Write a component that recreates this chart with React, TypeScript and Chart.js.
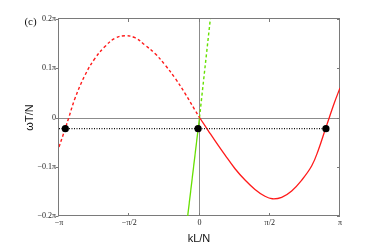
import React, { useEffect, useRef } from "react";
import { Chart, registerables } from "chart.js";

Chart.register(...registerables);

// All values in units of π
const redDashK = [-1.0, -0.955, -0.93, -0.886, -0.815, -0.744, -0.673, -0.601, -0.53, -0.459, -0.388, -0.317, -0.246, -0.174, -0.103, -0.032, 0];
const redDashW = [-0.06, -0.022, 0, 0.039, 0.086, 0.12, 0.144, 0.161, 0.166, 0.162, 0.147, 0.13, 0.107, 0.08, 0.049, 0.015, 0];

const redSolidK = [0, 0.063, 0.11, 0.181, 0.253, 0.324, 0.395, 0.466, 0.518, 0.585, 0.656, 0.728, 0.799, 0.846, 0.9, 0.924, 0.96, 1.0];
const redSolidW = [0, -0.027, -0.047, -0.076, -0.104, -0.127, -0.146, -0.16, -0.165, -0.162, -0.149, -0.127, -0.098, -0.066, -0.02, 0, 0.03, 0.06];

const greenSolidK = [-0.084, 0];
const greenSolidW = [-0.2, 0];
const greenDashK = [0, 0.077];
const greenDashW = [0, 0.2];

const levelK = [-1.0, 0.9];
const levelW = [-0.0227, -0.0227];

const dotK = [-0.955, -0.01, 0.9];
const dotW = [-0.0227, -0.0227, -0.0227];

const xTickValues = [-1, -0.5, 0, 0.5, 1];
const xTickLabels = ["−π", "−π/2", "0", "π/2", "π"];
const yTickValues = [-0.2, -0.1, 0, 0.1, 0.2];
const yTickLabels = ["−0.2π", "−0.1π", "0", "0.1π", "0.2π"];

const xTitle = "kL/N";
const yTitle = "ωT/N";
const panelLabel = "(c)";

const pts = (k: number[], w: number[]) => k.map((v, i) => ({ x: v, y: w[i] }));

const labelFor = (vals: number[], labels: string[], v: number) => {
  const i = vals.findIndex((t) => Math.abs(t - v) < 1e-6);
  return i >= 0 ? labels[i] : "";
};

const framePlugin = {
  id: "frame",
  beforeDatasetsDraw(chart: any) {
    const { ctx, chartArea } = chart;
    const { left, right, top, bottom } = chartArea;
    const xs = chart.scales.x;
    const ys = chart.scales.y;
    ctx.save();
    ctx.lineWidth = 1;
    // zero lines
    ctx.strokeStyle = "#8c8c8c";
    const x0 = Math.round(xs.getPixelForValue(0)) - 0.5;
    const y0 = Math.round(ys.getPixelForValue(0)) + 0.5;
    ctx.beginPath();
    ctx.moveTo(x0, top);
    ctx.lineTo(x0, bottom);
    ctx.moveTo(left, y0);
    ctx.lineTo(right, y0);
    ctx.stroke();
    // box
    ctx.strokeStyle = "#7a7a7a";
    ctx.strokeRect(left - 0.5, top - 0.5, right - left, bottom - top);
    // ticks
    ctx.beginPath();
    const tl = 3;
    xTickValues.forEach((v) => {
      const px = Math.round(xs.getPixelForValue(v)) - 0.5;
      ctx.moveTo(px, bottom);
      ctx.lineTo(px, bottom - tl);
      ctx.moveTo(px, top);
      ctx.lineTo(px, top + tl);
    });
    yTickValues.forEach((v) => {
      const py = Math.round(ys.getPixelForValue(v)) + 0.5;
      ctx.moveTo(left - 0.5, py);
      ctx.lineTo(left - 0.5 - tl, py);
      ctx.moveTo(right, py);
      ctx.lineTo(right - tl, py);
    });
    ctx.stroke();
    ctx.restore();
  },
  afterDraw(chart: any) {
    const { ctx } = chart;
    ctx.save();
    ctx.fillStyle = "#111";
    ctx.textAlign = "center";
    ctx.textBaseline = "middle";
    ctx.font = "11px 'Liberation Sans', Arial, sans-serif";
    ctx.fillText(xTitle, 199, 239);
    ctx.save();
    ctx.translate(29.5, 117.5);
    ctx.rotate(-Math.PI / 2);
    ctx.fillText(yTitle, 0, 0);
    ctx.restore();
    ctx.font = "11px 'Liberation Serif', 'Times New Roman', serif";
    ctx.fillText(panelLabel, 30.5, 22);
    ctx.restore();
  },
};

export default function App() {
  const ref = useRef<HTMLCanvasElement | null>(null);
  useEffect(() => {
    document.body.style.margin = "0";
    if (!ref.current) return;
    const red = "#ff1a1a";
    const green = "#66e000";
    const chart = new Chart(ref.current, {
      type: "line",
      data: {
        datasets: [
          {
            data: pts(dotK, dotW),
            showLine: false,
            pointRadius: 3.6,
            pointBackgroundColor: "#000",
            pointBorderColor: "#000",
            borderWidth: 0,
            order: 0,
          },
          {
            data: pts(levelK, levelW),
            borderColor: "#111",
            borderWidth: 1.3,
            borderDash: [1, 1.5],
            pointRadius: 0,
            tension: 0,
            order: 1,
          },
          {
            data: pts(redDashK, redDashW),
            borderColor: red,
            borderWidth: 1.4,
            borderDash: [3, 2.5],
            pointRadius: 0,
            tension: 0.4,
            order: 2,
          },
          {
            data: pts(redSolidK, redSolidW),
            borderColor: red,
            borderWidth: 1.3,
            pointRadius: 0,
            tension: 0.4,
            order: 2,
          },
          {
            data: pts(greenSolidK, greenSolidW),
            borderColor: green,
            borderWidth: 1.3,
            pointRadius: 0,
            order: 3,
          },
          {
            data: pts(greenDashK, greenDashW),
            borderColor: green,
            borderWidth: 1.4,
            borderDash: [3, 2.5],
            pointRadius: 0,
            order: 3,
          },
        ],
      },
      options: {
        animation: false,
        responsive: false,
        devicePixelRatio: 1,
        layout: { padding: { left: 0, top: 19, right: 35, bottom: 0 } },
        plugins: { legend: { display: false }, tooltip: { enabled: false } },
        scales: {
          x: {
            type: "linear",
            min: -1,
            max: 1,
            grid: { display: false, drawTicks: false },
            border: { display: false },
            afterBuildTicks: (s: any) => {
              s.ticks = xTickValues.map((v) => ({ value: v }));
            },
            afterFit: (s: any) => {
              s.height = 29;
            },
            ticks: {
              padding: 2,
              color: "#222",
              maxRotation: 0,
              autoSkip: false,
              font: { family: "'Liberation Serif', 'Times New Roman', serif", size: 8 },
              callback: (v: any) => labelFor(xTickValues, xTickLabels, Number(v)),
            },
          },
          y: {
            type: "linear",
            min: -0.2,
            max: 0.2,
            grid: { display: false, drawTicks: false },
            border: { display: false },
            afterBuildTicks: (s: any) => {
              s.ticks = yTickValues.map((v) => ({ value: v }));
            },
            afterFit: (s: any) => {
              s.width = 59;
            },
            ticks: {
              padding: 3,
              color: "#222",
              autoSkip: false,
              font: { family: "'Liberation Serif', 'Times New Roman', serif", size: 8 },
              callback: (v: any) => labelFor(yTickValues, yTickLabels, Number(v)),
            },
          },
        },
      },
      plugins: [framePlugin],
    } as any);
    return () => chart.destroy();
  }, []);
  return <canvas ref={ref} width={375} height={245} style={{ display: "block", width: 375, height: 245 }} />;
}
